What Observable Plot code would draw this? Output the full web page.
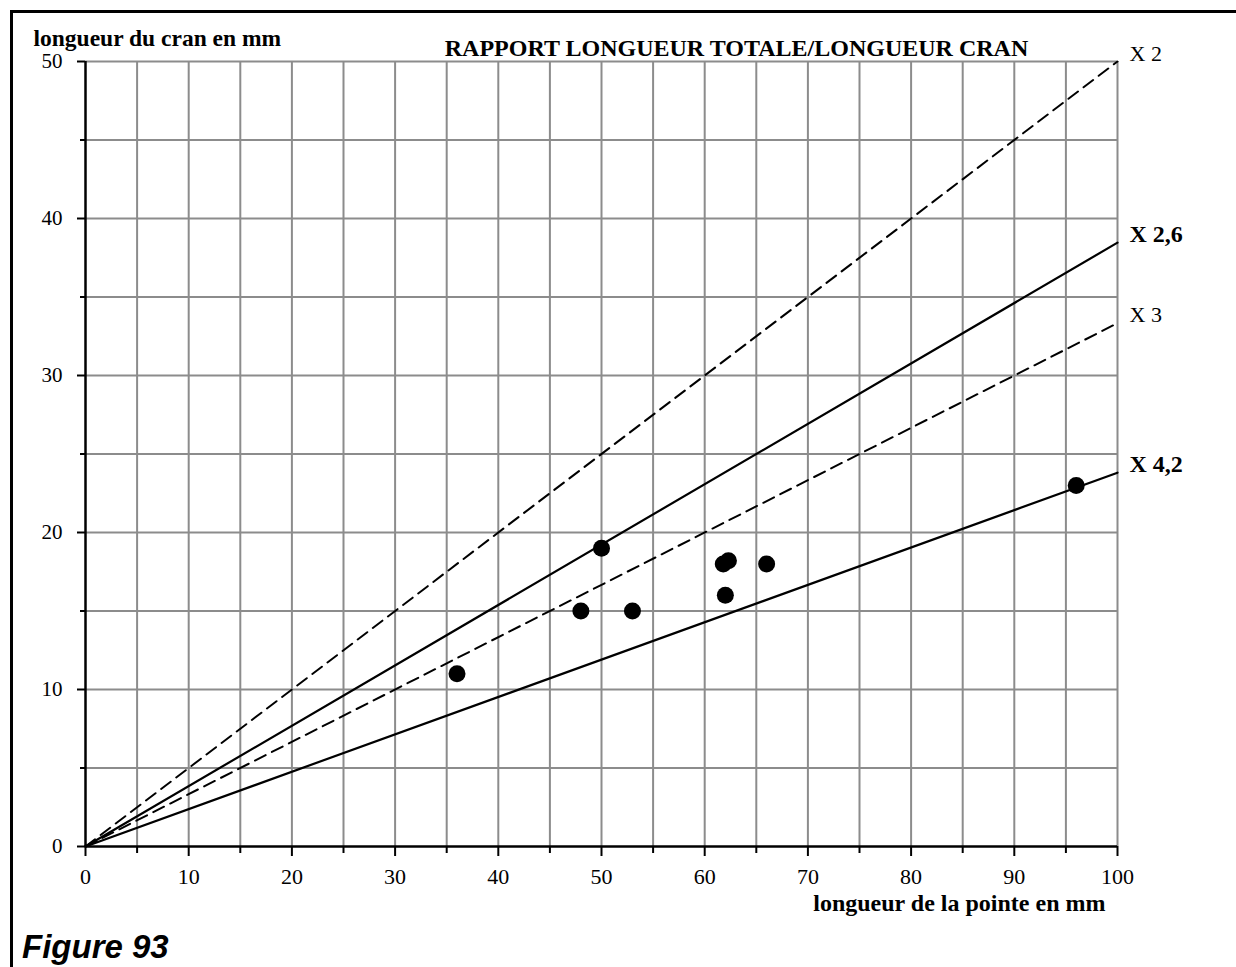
<!DOCTYPE html>
<html>
<head>
<meta charset="utf-8">
<script src="https://cdn.jsdelivr.net/npm/d3@7"></script>
<script src="https://cdn.jsdelivr.net/npm/@observablehq/plot@0.6"></script>
<style>
  html, body { margin: 0; padding: 0; background: #fff; }
  #wrap { position: relative; width: 1236px; height: 967px; overflow: hidden; }
  #frame { position: absolute; left: 10px; top: 10px; width: 1300px; height: 1000px;
           border-top: 3px solid #000; border-left: 3px solid #000; box-sizing: border-box; }
  #chart { position: absolute; left: 0; top: 0; }
  #fig { position: absolute; left: 22px; top: 927px; font-family: "Liberation Sans", Arial, sans-serif;
         font-weight: bold; font-style: italic; font-size: 33px; color: #000; line-height: 40px; }
</style>
</head>
<body>
<div id="wrap">
  <div id="frame"></div>
  <div id="chart"></div>
  <div id="fig">Figure 93</div>
</div>
<script>
// ---- data ----
const pointX = [36, 48, 50, 53, 61.8, 62.3, 62, 66, 96];
const pointY = [11, 15, 19, 15, 18.0, 18.2, 16, 18, 23];
const ratios = [2, 2.6, 3, 4.2];
const ratioLabels = ["X 2", "X 2,6", "X 3", "X 4,2"];
const ratioDashed = [true, false, true, false];
const ratioBold = [false, true, false, true];
const xTicks = [0, 10, 20, 30, 40, 50, 60, 70, 80, 90, 100];
const xMinorTicks = [5, 15, 25, 35, 45, 55, 65, 75, 85, 95];
const yTicks = [0, 10, 20, 30, 40, 50];
const yMinorTicks = [5, 15, 25, 35, 45];
const gridX = [5, 10, 15, 20, 25, 30, 35, 40, 45, 50, 55, 60, 65, 70, 75, 80, 85, 90, 95, 100];
const gridY = [5, 10, 15, 20, 25, 30, 35, 40, 45, 50];
const titleText = "RAPPORT LONGUEUR TOTALE/LONGUEUR CRAN";
const yLabelText = "longueur du cran en mm";
const xLabelText = "longueur de la pointe en mm";

// ---- derived tables ----
const points = pointX.map((x, i) => ({x, y: pointY[i]}));
const xMax = 100;
const lines = ratios.flatMap((r, i) => [
  {x: 0, y: 0, k: i, dashed: ratioDashed[i]},
  {x: xMax, y: xMax / r, k: i, dashed: ratioDashed[i]}
]);
const ends = ratios.map((r, i) => ({x: xMax, y: xMax / r, label: ratioLabels[i], bold: ratioBold[i]}));

const serif = "'Liberation Serif', 'Times New Roman', serif";

const plot = Plot.plot({
  width: 1236,
  height: 967,
  marginLeft: 85,
  marginRight: 119,
  marginTop: 61,
  marginBottom: 121,
  style: {fontFamily: serif, background: "transparent", color: "#000", overflow: "visible"},
  x: {domain: [0, 100]},
  y: {domain: [0, 50]},
  marks: [
    Plot.gridX(gridX, {stroke: "#8c8c8c", strokeOpacity: 1, strokeWidth: 2}),
    Plot.gridY(gridY, {stroke: "#8c8c8c", strokeOpacity: 1, strokeWidth: 2}),
    Plot.axisX({ticks: xTicks, tickSize: 10, tickPadding: 12, fontSize: 22, strokeWidth: 2, label: null}),
    Plot.axisX({ticks: xMinorTicks, tickSize: 7, text: null, strokeWidth: 2, label: null}),
    Plot.axisY({ticks: yTicks, tickSize: 8, tickPadding: 15, fontSize: 21, strokeWidth: 2, label: null}),
    Plot.axisY({ticks: yMinorTicks, tickSize: 5, text: null, strokeWidth: 2, label: null}),
    Plot.ruleX([0], {stroke: "#000", strokeWidth: 2.5}),
    Plot.ruleY([0], {stroke: "#000", strokeWidth: 2.5}),
    Plot.line(lines.filter(d => d.dashed), {x: "x", y: "y", z: "k", stroke: "#000", strokeWidth: 2, strokeDasharray: "12,7"}),
    Plot.line(lines.filter(d => !d.dashed), {x: "x", y: "y", z: "k", stroke: "#000", strokeWidth: 2.2}),
    Plot.dot(points, {x: "x", y: "y", r: 8.5, fill: "#000", stroke: "none"}),
    Plot.text(ends.filter(d => d.bold), {x: "x", y: "y", text: "label", textAnchor: "start", dx: 12, dy: -8, fontSize: 24, fontWeight: "bold"}),
    Plot.text(ends.filter(d => !d.bold), {x: "x", y: "y", text: "label", textAnchor: "start", dx: 12, dy: -8, fontSize: 22}),
    Plot.text([titleText], {frameAnchor: "top", text: d => d, dx: 135, dy: -23, fontSize: 24, fontWeight: "bold"}),
    Plot.text([yLabelText], {frameAnchor: "top-left", text: d => d, textAnchor: "start", dx: -52, dy: -32, fontSize: 23.5, fontWeight: "bold"}),
    Plot.text([xLabelText], {frameAnchor: "bottom-right", text: d => d, textAnchor: "end", dx: -12, dy: 64, fontSize: 24, fontWeight: "bold"})
  ]
});
document.getElementById("chart").appendChild(plot);
</script>
</body>
</html>
